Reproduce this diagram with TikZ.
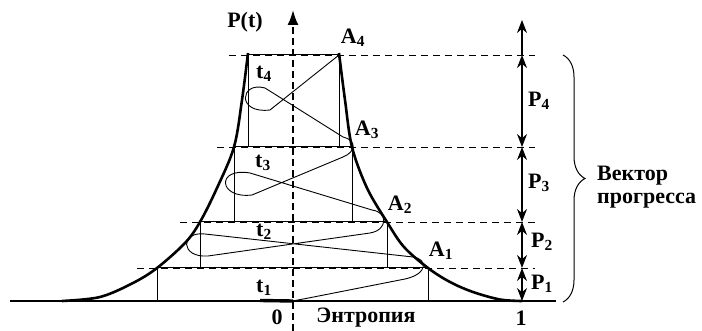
\documentclass[tikz,border=0pt]{standalone}
\usepackage{fontspec}
\setmainfont{Liberation Serif}
\usetikzlibrary{arrows.meta,decorations.pathreplacing}
\tikzset{
  lbl/.style={font=\fontsize{22}{23}\selectfont\bfseries, inner sep=0pt},
  gridline/.style={line width=0.9pt, dash pattern=on 7pt off 5pt},
  boxline/.style={line width=1pt},
  bell/.style={line width=2.6pt, line join=round},
  pvec/.style={line width=1.2pt, {Stealth[length=13pt,width=10pt]}-{Stealth[length=13pt,width=10pt]}}
}
\begin{document}
\begin{tikzpicture}[x=1pt,y=-1pt]
    \useasboundingbox (0,0) rectangle (702,331);
    \coordinate (O) at (293,301);   \coordinate (L) at (10,301);  \coordinate (R) at (556,301);
    \coordinate (A1) at (428,268);  \coordinate (B1) at (157,268);
    \coordinate (A2) at (387,222);  \coordinate (B2) at (200,222);
    \coordinate (A3) at (352,147);  \coordinate (B3) at (234,147);
    \coordinate (A4) at (339,55);   \coordinate (B4) at (248,55);
    \coordinate (Q0) at (522,301);  \coordinate (Q1) at (522,268);
    \coordinate (Q2) at (522,222);  \coordinate (Q3) at (522,147);
    \coordinate (Q4) at (522,55);   \coordinate (Q5) at (522,20);
    % dashed levels
    \foreach \yy/\xl in {268/137,222/180,147/217,55/229}
      \draw[gridline] (\xl,\yy) -- (535,\yy);
    % steps
    \draw[boxline] (B1|-O) |- (A1) -- (A1|-O);
    \draw[boxline] (B2|-B1) |- (A2) -- (A2|-A1);
    \draw[boxline] (B3|-B2) |- (A3) -- (A3|-A2);
    \draw[boxline] (B4|-B3) |- (A4) -- (A4|-A3);
    % axes
    \draw[line width=2.6pt] (L) -- (R);
    \draw[line width=2pt, dash pattern=on 7pt off 4pt, -{Latex[length=15pt,width=11pt]}] (293,331) -- (293,10);
    % curve
    \draw[bell] plot[smooth, tension=0.55] coordinates {(62,301) (100,297) (133,283) (157,268) (185,243) (200,222) (217,188) (234,147) (242,100) (248,53)};
    \draw[bell] plot[smooth, tension=0.55] coordinates {(339,53) (345,100) (352,147) (367,188) (387,222) (404,247) (428,268) (450,282) (473,292) (500,299.5) (522,301)};
    % spiral
    \draw[line width=3.4pt] (260,300.5) -- (O);
    \draw[line width=0.9pt] (O) .. controls (298,300) and (300,299.5) .. (306,298.5)
      -- (405,279) .. controls (428,274) and (428,259) .. (413,257)
      -- (205,234) .. controls (180,231) and (180,258) .. (208,256)
      -- (370,233) .. controls (388,230) and (388,212) .. (372,210)
      -- (250,173) .. controls (216,167) and (218,199) .. (252,195)
      -- (343,157) .. controls (356,152) and (357,140) .. (343,137)
      -- (265,88) .. controls (240,81) and (236,114) .. (270,110)
      -- (A4);
    % progress vector
    \draw[pvec] (Q0) -- (Q1);
    \draw[pvec] (Q1) -- (Q2);
    \draw[pvec] (Q2) -- (Q3);
    \draw[pvec] (Q3) -- (Q4);
    \draw[line width=1.2pt, -{Stealth[length=13pt,width=10pt]}] (Q4) -- (Q5);
    \draw[decorate, decoration={brace, amplitude=22pt}, line width=1pt] (563,55) -- (563,302);
    % labels
    \node[lbl] (lPt) at (245,22) {P(t)};
    \node[lbl] (lA4) at (353,38) {A\textsubscript{4}};
    \node[lbl] (lA3) at (367,130) {A\textsubscript{3}};
    \node[lbl] (lA2) at (400,205) {A\textsubscript{2}};
    \node[lbl] (lA1) at (441,251) {A\textsubscript{1}};
    \node[lbl] (lt4) at (264,74) {t\textsubscript{4}};
    \node[lbl] (lt3) at (263,163) {t\textsubscript{3}};
    \node[lbl] (lt2) at (264,232) {t\textsubscript{2}};
    \node[lbl] (lt1) at (264,288) {t\textsubscript{1}};
    \node[lbl] (lzero) at (277,317) {0};
    \node[lbl] (lent) at (366,318) {Энтропия};
    \node[lbl] (lone) at (521,318) {1};
    \node[lbl] (lP4) at (539,101) {P\textsubscript{4}};
    \node[lbl] (lP3) at (539,183) {P\textsubscript{3}};
    \node[lbl] (lP2) at (542,242) {P\textsubscript{2}};
    \node[lbl] (lP1) at (542,284) {P\textsubscript{1}};
    \node[lbl, anchor=west, align=left] (lvec) at (597,187) {Вектор\\прогресса};
  \end{tikzpicture}
\end{document}
